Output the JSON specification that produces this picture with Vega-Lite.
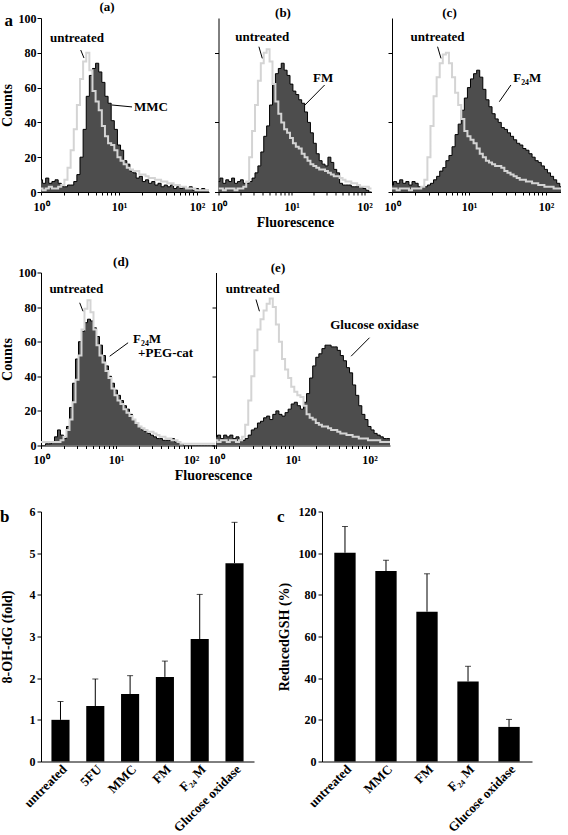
{
"$schema": "https://vega.github.io/schema/vega-lite/v6.json",
"padding": {"left": 0, "top": 1, "right": 0, "bottom": 0},
"spacing": 22.5,
"config": {
  "font": "Liberation Serif",
  "view": {"stroke": null},
  "axis": {"labelFont": "Liberation Serif", "labelFontWeight": "bold", "labelFontSize": 12, "labelColor": "black", "titleFont": "Liberation Serif", "titleFontWeight": "bold", "titleFontSize": 14, "titleColor": "black", "domainColor": "black", "tickColor": "black", "grid": false, "tickSize": 4, "labelOverlap": false},
  "title": {"font": "Liberation Serif", "fontWeight": "bold", "fontSize": 13, "color": "black", "offset": -2},
  "text": {"font": "Liberation Serif", "fontWeight": "bold", "fontSize": 13, "color": "black"}
},
"datasets": {
  "a": [
    {"x":1,"u":2,"t":7},{"x":1.096,"u":1,"t":5},{"x":1.202,"u":2,"t":8},{"x":1.318,"u":3,"t":5},{"x":1.445,"u":2,"t":6},{"x":1.585,"u":2,"t":7},{"x":1.738,"u":3,"t":5},{"x":1.905,"u":4,"t":3},{"x":2.089,"u":7,"t":3},{"x":2.291,"u":14,"t":4},
    {"x":2.512,"u":24,"t":4},{"x":2.754,"u":36,"t":6},{"x":3.02,"u":50,"t":10},{"x":3.311,"u":65,"t":20},{"x":3.631,"u":75,"t":36},{"x":3.981,"u":80,"t":55},{"x":4.365,"u":70,"t":67},{"x":4.786,"u":58,"t":71},{"x":5.248,"u":52,"t":74},{"x":5.754,"u":47,"t":69},
    {"x":6.31,"u":38,"t":63},{"x":6.918,"u":32,"t":55},{"x":7.586,"u":28,"t":51},{"x":8.318,"u":27,"t":41},{"x":9.12,"u":24,"t":36},{"x":10,"u":20,"t":27},{"x":10.96,"u":18,"t":24},{"x":12.02,"u":16,"t":18},{"x":13.18,"u":14,"t":16},{"x":14.45,"u":13,"t":12},
    {"x":15.85,"u":12,"t":11},{"x":17.38,"u":12,"t":8},{"x":19.05,"u":10,"t":9},{"x":20.89,"u":10,"t":6},{"x":22.91,"u":9,"t":7},{"x":25.12,"u":8,"t":5},{"x":27.54,"u":8,"t":6},{"x":30.2,"u":7,"t":4},{"x":33.11,"u":7,"t":5},{"x":36.31,"u":6,"t":3},
    {"x":39.81,"u":6,"t":4},{"x":43.65,"u":5,"t":3},{"x":47.86,"u":5,"t":4},{"x":52.48,"u":4,"t":2},{"x":57.54,"u":4,"t":3},{"x":63.1,"u":3,"t":2},{"x":69.18,"u":3,"t":3},{"x":75.86,"u":2,"t":2},{"x":83.18,"u":2,"t":3},{"x":91.2,"u":2,"t":1},
    {"x":100,"u":1,"t":2},{"x":109.6,"u":1,"t":1},{"x":120.2,"u":1,"t":2},{"x":131.8,"u":1,"t":1},{"x":144.5,"u":1,"t":1},{"x":158.5,"u":1,"t":1}
  ],
  "b": [
    {"x":1,"u":2,"t":6},{"x":1.096,"u":2,"t":8},{"x":1.202,"u":1,"t":5},{"x":1.318,"u":2,"t":7},{"x":1.445,"u":2,"t":6},{"x":1.585,"u":2,"t":8},{"x":1.738,"u":1,"t":5},{"x":1.905,"u":2,"t":6},{"x":2.089,"u":2,"t":7},{"x":2.291,"u":3,"t":5},
    {"x":2.512,"u":6,"t":5},{"x":2.754,"u":20,"t":6},{"x":3.02,"u":35,"t":8},{"x":3.311,"u":50,"t":11},{"x":3.631,"u":64,"t":15},{"x":3.981,"u":74,"t":23},{"x":4.365,"u":80,"t":32},{"x":4.786,"u":82,"t":38},{"x":5.248,"u":75,"t":50},{"x":5.754,"u":62,"t":62},
    {"x":6.31,"u":52,"t":68},{"x":6.918,"u":45,"t":71},{"x":7.586,"u":40,"t":74},{"x":8.318,"u":36,"t":70},{"x":9.12,"u":34,"t":67},{"x":10,"u":31,"t":62},{"x":10.96,"u":28,"t":58},{"x":12.02,"u":26,"t":56},{"x":13.18,"u":25,"t":53},{"x":14.45,"u":22,"t":51},
    {"x":15.85,"u":20,"t":46},{"x":17.38,"u":18,"t":40},{"x":19.05,"u":16,"t":34},{"x":20.89,"u":15,"t":28},{"x":22.91,"u":14,"t":22},{"x":25.12,"u":13,"t":18},{"x":27.54,"u":13,"t":16},{"x":30.2,"u":12,"t":15},{"x":33.11,"u":11,"t":20},{"x":36.31,"u":10,"t":17},
    {"x":39.81,"u":9,"t":13},{"x":43.65,"u":9,"t":11},{"x":47.86,"u":8,"t":5},{"x":52.48,"u":7,"t":4},{"x":57.54,"u":6,"t":4},{"x":63.1,"u":6,"t":4},{"x":69.18,"u":5,"t":3},{"x":75.86,"u":5,"t":3},{"x":83.18,"u":4,"t":3},{"x":91.2,"u":3,"t":3},
    {"x":100,"u":3,"t":2},{"x":109.6,"u":3,"t":1},{"x":120.2,"u":2,"t":0},{"x":131.8,"u":2,"t":0}
  ],
  "c": [
    {"x":1,"u":2,"t":4},{"x":1.096,"u":2,"t":6},{"x":1.202,"u":1,"t":5},{"x":1.318,"u":2,"t":7},{"x":1.445,"u":2,"t":5},{"x":1.585,"u":2,"t":6},{"x":1.738,"u":1,"t":4},{"x":1.905,"u":2,"t":6},{"x":2.089,"u":2,"t":5},{"x":2.291,"u":2,"t":3},
    {"x":2.512,"u":3,"t":3},{"x":2.754,"u":7,"t":3},{"x":3.02,"u":20,"t":4},{"x":3.311,"u":38,"t":5},{"x":3.631,"u":55,"t":7},{"x":3.981,"u":66,"t":9},{"x":4.365,"u":74,"t":12},{"x":4.786,"u":79,"t":14},{"x":5.248,"u":80,"t":18},{"x":5.754,"u":74,"t":21},
    {"x":6.31,"u":66,"t":26},{"x":6.918,"u":57,"t":33},{"x":7.586,"u":50,"t":39},{"x":8.318,"u":42,"t":47},{"x":9.12,"u":35,"t":54},{"x":10,"u":32,"t":60},{"x":10.96,"u":30,"t":65},{"x":12.02,"u":28,"t":68},{"x":13.18,"u":25,"t":70},{"x":14.45,"u":22,"t":66},
    {"x":15.85,"u":20,"t":59},{"x":17.38,"u":18,"t":53},{"x":19.05,"u":17,"t":49},{"x":20.89,"u":16,"t":45},{"x":22.91,"u":15,"t":42},{"x":25.12,"u":15,"t":40},{"x":27.54,"u":14,"t":37},{"x":30.2,"u":12,"t":36},{"x":33.11,"u":11,"t":34},{"x":36.31,"u":10,"t":32},
    {"x":39.81,"u":9,"t":30},{"x":43.65,"u":8,"t":28},{"x":47.86,"u":7,"t":27},{"x":52.48,"u":7,"t":25},{"x":57.54,"u":6,"t":24},{"x":63.1,"u":6,"t":22},{"x":69.18,"u":5,"t":20},{"x":75.86,"u":5,"t":18},{"x":83.18,"u":4,"t":17},{"x":91.2,"u":4,"t":15},
    {"x":100,"u":3,"t":13},{"x":109.6,"u":3,"t":11},{"x":120.2,"u":3,"t":9},{"x":131.8,"u":2,"t":7},{"x":144.5,"u":2,"t":5},{"x":158.5,"u":2,"t":3},{"x":173.8,"u":2,"t":3}
  ],
  "d": [
    {"x":1,"u":2,"t":0},{"x":1.096,"u":2,"t":0},{"x":1.202,"u":2,"t":1},{"x":1.318,"u":2,"t":1},{"x":1.445,"u":2,"t":2},{"x":1.585,"u":2,"t":5},{"x":1.738,"u":2,"t":9},{"x":1.905,"u":3,"t":6},{"x":2.089,"u":5,"t":4},{"x":2.291,"u":9,"t":11},
    {"x":2.512,"u":15,"t":22},{"x":2.754,"u":25,"t":36},{"x":3.02,"u":38,"t":50},{"x":3.311,"u":52,"t":60},{"x":3.631,"u":67,"t":66},{"x":3.981,"u":79,"t":71},{"x":4.365,"u":84,"t":73},{"x":4.786,"u":77,"t":72},{"x":5.248,"u":67,"t":68},{"x":5.754,"u":58,"t":63},
    {"x":6.31,"u":52,"t":58},{"x":6.918,"u":48,"t":52},{"x":7.586,"u":43,"t":46},{"x":8.318,"u":39,"t":40},{"x":9.12,"u":33,"t":36},{"x":10,"u":29,"t":32},{"x":10.96,"u":26,"t":29},{"x":12.02,"u":24,"t":26},{"x":13.18,"u":21,"t":23},{"x":14.45,"u":19,"t":21},
    {"x":15.85,"u":17,"t":18},{"x":17.38,"u":15,"t":15},{"x":19.05,"u":13,"t":13},{"x":20.89,"u":11,"t":11},{"x":22.91,"u":10,"t":9},{"x":25.12,"u":9,"t":8},{"x":27.54,"u":8,"t":7},{"x":30.2,"u":8,"t":6},{"x":33.11,"u":7,"t":5},{"x":36.31,"u":6,"t":4},
    {"x":39.81,"u":5,"t":4},{"x":43.65,"u":5,"t":3},{"x":47.86,"u":4,"t":3},{"x":52.48,"u":4,"t":3},{"x":57.54,"u":3,"t":4},{"x":63.1,"u":3,"t":2},{"x":69.18,"u":2,"t":2},{"x":75.86,"u":1,"t":1},{"x":83.18,"u":1,"t":0},{"x":91.2,"u":1,"t":0},
    {"x":100,"u":1,"t":0},{"x":109.6,"u":1,"t":0},{"x":120.2,"u":1,"t":0},{"x":131.8,"u":1,"t":0},{"x":144.5,"u":1,"t":0},{"x":158.5,"u":1,"t":0},{"x":173.8,"u":1,"t":0},{"x":190.5,"u":1,"t":0},{"x":208.9,"u":1,"t":0}
  ],
  "e": [
    {"x":1,"u":3,"t":5},{"x":1.096,"u":2,"t":6},{"x":1.202,"u":3,"t":4},{"x":1.318,"u":3,"t":6},{"x":1.445,"u":2,"t":5},{"x":1.585,"u":3,"t":6},{"x":1.738,"u":3,"t":4},{"x":1.905,"u":2,"t":5},{"x":2.089,"u":3,"t":3},{"x":2.291,"u":5,"t":3},
    {"x":2.512,"u":12,"t":4},{"x":2.754,"u":26,"t":6},{"x":3.02,"u":40,"t":9},{"x":3.311,"u":55,"t":10},{"x":3.631,"u":67,"t":13},{"x":3.981,"u":73,"t":14},{"x":4.365,"u":78,"t":16},{"x":4.786,"u":82,"t":17},{"x":5.248,"u":85,"t":15},{"x":5.754,"u":80,"t":18},
    {"x":6.31,"u":70,"t":20},{"x":6.918,"u":60,"t":18},{"x":7.586,"u":50,"t":17},{"x":8.318,"u":44,"t":19},{"x":9.12,"u":39,"t":21},{"x":10,"u":34,"t":24},{"x":10.96,"u":31,"t":25},{"x":12.02,"u":29,"t":23},{"x":13.18,"u":28,"t":21},{"x":14.45,"u":23,"t":25},
    {"x":15.85,"u":18,"t":30},{"x":17.38,"u":16,"t":39},{"x":19.05,"u":15,"t":46},{"x":20.89,"u":13,"t":51},{"x":22.91,"u":12,"t":53},{"x":25.12,"u":11,"t":56},{"x":27.54,"u":11,"t":58},{"x":30.2,"u":10,"t":58},{"x":33.11,"u":9,"t":57},{"x":36.31,"u":9,"t":57},
    {"x":39.81,"u":8,"t":55},{"x":43.65,"u":7,"t":52},{"x":47.86,"u":7,"t":49},{"x":52.48,"u":6,"t":45},{"x":57.54,"u":6,"t":42},{"x":63.1,"u":5,"t":35},{"x":69.18,"u":5,"t":29},{"x":75.86,"u":4,"t":23},{"x":83.18,"u":4,"t":18},{"x":91.2,"u":4,"t":15},
    {"x":100,"u":3,"t":11},{"x":109.6,"u":3,"t":9},{"x":120.2,"u":3,"t":7},{"x":131.8,"u":3,"t":6},{"x":144.5,"u":2,"t":5},{"x":158.5,"u":2,"t":4},{"x":173.8,"u":2,"t":4},{"x":190.5,"u":2,"t":4}
  ]
},
"vconcat": [
  {
    "spacing": 26.5,
    "vconcat": [
      {
        "spacing": 1.5,
        "hconcat": [
          {
            "width": 168, "height": 174,
            "title": {"text": "(a)", "dx": -18},
            "data": {"name": "a"},
            "layer": [
              {"mark": {"type": "area", "interpolate": "step", "color": "#4d4d4d", "clip": true},
               "encoding": {
                 "x": {"field": "x", "type": "quantitative", "title": null, "scale": {"type": "log", "domain": [1, 142.6], "nice": false},
                       "axis": {"values": [1,2,3,4,5,6,7,8,9,10,20,30,40,50,60,70,80,90,100], "labelExpr": "datum.value == 1 ? '10⁰' : datum.value == 10 ? '10¹' : datum.value == 100 ? '10²' : ''", "tickSize": 3, "labelFlush": false, "labelOverlap": false, "labelPadding": 6}},
                 "y": {"field": "t", "type": "quantitative", "title": "Counts", "scale": {"domain": [0, 100], "nice": false},
                       "axis": {"values": [0,20,40,60,80,100], "labelOverlap": false, "labelPadding": 1, "titlePadding": 3, "minExtent": 24, "maxExtent": 24}}}},
              {"mark": {"type": "line", "interpolate": "step", "color": "#000000", "strokeWidth": 1, "clip": true},
               "encoding": {"x": {"field": "x", "type": "quantitative", "title": null}, "y": {"field": "t", "type": "quantitative", "title": "Counts", "axis": {"values": [0,20,40,60,80,100], "labelOverlap": false, "labelPadding": 1, "titlePadding": 3, "minExtent": 24, "maxExtent": 24}}}},
              {"mark": {"type": "line", "interpolate": "step", "color": "#d4d4d4", "strokeWidth": 2, "clip": true},
               "encoding": {"x": {"field": "x", "type": "quantitative", "title": null}, "y": {"field": "u", "type": "quantitative", "title": "Counts", "axis": {"values": [0,20,40,60,80,100], "labelOverlap": false, "labelPadding": 1, "titlePadding": 3, "minExtent": 24, "maxExtent": 24}}}},
              {"data": {"values": [{"label": "untreated"}]}, "mark": {"type": "text", "align": "center", "baseline": "middle"}, "encoding": {"x": {"datum": 2.89}, "y": {"datum": 88.5, "title": "Counts", "axis": {"values": [0,20,40,60,80,100], "labelOverlap": false, "labelPadding": 1, "titlePadding": 3, "minExtent": 24, "maxExtent": 24}}, "text": {"field": "label"}}},
              {"data": {"values": [{"label": "untreated"}]}, "mark": {"type": "rule", "color": "black"}, "encoding": {"x": {"datum": 3.23}, "y": {"datum": 81.6, "title": "Counts", "axis": {"values": [0,20,40,60,80,100], "labelOverlap": false, "labelPadding": 1, "titlePadding": 3, "minExtent": 24, "maxExtent": 24}}, "x2": {"datum": 3.56}, "y2": {"datum": 77}}},
              {"data": {"values": [{"label": "MMC"}]}, "mark": {"type": "text", "align": "left", "baseline": "middle"}, "encoding": {"x": {"datum": 15.6}, "y": {"datum": 48.9, "title": "Counts", "axis": {"values": [0,20,40,60,80,100], "labelOverlap": false, "labelPadding": 1, "titlePadding": 3, "minExtent": 24, "maxExtent": 24}}, "text": {"field": "label"}}},
              {"data": {"values": [{"label": "MMC"}]}, "mark": {"type": "rule", "color": "black"}, "encoding": {"x": {"datum": 8.13}, "y": {"datum": 50, "title": "Counts", "axis": {"values": [0,20,40,60,80,100], "labelOverlap": false, "labelPadding": 1, "titlePadding": 3, "minExtent": 24, "maxExtent": 24}}, "x2": {"datum": 14.7}, "y2": {"datum": 48.9}}},
              {"data": {"values": [{"label": "a"}]}, "mark": {"type": "text", "align": "left", "baseline": "middle", "fontSize": 17}, "encoding": {"x": {"datum": 0.34}, "y": {"datum": 98, "title": "Counts", "axis": {"values": [0,20,40,60,80,100], "labelOverlap": false, "labelPadding": 1, "titlePadding": 3, "minExtent": 24, "maxExtent": 24}}, "text": {"field": "label"}}}
            ]
          },
          {
            "spacing": 11.5,
            "hconcat": [
              {
                "width": 153, "height": 174,
                "title": {"text": "(b)", "dx": -12},
                "data": {"name": "b"},
                "layer": [
                  {"mark": {"type": "area", "interpolate": "step", "color": "#4d4d4d", "clip": true},
                   "encoding": {
                     "x": {"field": "x", "type": "quantitative", "title": "Fluorescence", "scale": {"type": "log", "domain": [1, 125], "nice": false},
                           "axis": {"values": [1,2,3,4,5,6,7,8,9,10,20,30,40,50,60,70,80,90,100], "labelExpr": "datum.value == 1 ? '10⁰' : datum.value == 10 ? '10¹' : datum.value == 100 ? '10²' : ''", "tickSize": 3, "labelFlush": false, "labelOverlap": false, "labelPadding": 6, "titlePadding": 3}},
                     "y": {"field": "t", "type": "quantitative", "title": null, "scale": {"domain": [0, 100], "nice": false},
                           "axis": {"values": [0,20,40,60,80,100], "labels": false}}}},
                  {"mark": {"type": "line", "interpolate": "step", "color": "#000000", "strokeWidth": 1, "clip": true},
                   "encoding": {"x": {"field": "x", "type": "quantitative", "title": "Fluorescence"}, "y": {"field": "t", "type": "quantitative", "title": null, "axis": {"values": [0,20,40,60,80,100], "labels": false}}}},
                  {"mark": {"type": "line", "interpolate": "step", "color": "#d4d4d4", "strokeWidth": 2, "clip": true},
                   "encoding": {"x": {"field": "x", "type": "quantitative", "title": "Fluorescence"}, "y": {"field": "u", "type": "quantitative", "title": null, "axis": {"values": [0,20,40,60,80,100], "labels": false}}}},
                  {"data": {"values": [{"label": "untreated"}]}, "mark": {"type": "text", "align": "center", "baseline": "middle"}, "encoding": {"x": {"datum": 3.98}, "y": {"datum": 89.3}, "text": {"field": "label"}}},
                  {"data": {"values": [{"label": "untreated"}]}, "mark": {"type": "rule", "color": "black"}, "encoding": {"x": {"datum": 3.58}, "y": {"datum": 83.5}, "x2": {"datum": 3.98}, "y2": {"datum": 76.8}}},
                  {"data": {"values": [{"label": "FM"}]}, "mark": {"type": "text", "align": "center", "baseline": "middle"}, "encoding": {"x": {"datum": 27.1}, "y": {"datum": 65.3}, "text": {"field": "label"}}},
                  {"data": {"values": [{"label": "FM"}]}, "mark": {"type": "rule", "color": "black"}, "encoding": {"x": {"datum": 28.5}, "y": {"datum": 61.5}, "x2": {"datum": 15.3}, "y2": {"datum": 50}}}
                ]
              },
              {
                "width": 169, "height": 174,
                "title": {"text": "(c)", "dx": -27},
                "data": {"name": "c"},
                "layer": [
                  {"mark": {"type": "area", "interpolate": "step", "color": "#4d4d4d", "clip": true},
                   "encoding": {
                     "x": {"field": "x", "type": "quantitative", "title": null, "scale": {"type": "log", "domain": [1, 157], "nice": false},
                           "axis": {"values": [1,2,3,4,5,6,7,8,9,10,20,30,40,50,60,70,80,90,100], "labelExpr": "datum.value == 1 ? '10⁰' : datum.value == 10 ? '10¹' : datum.value == 100 ? '10²' : ''", "tickSize": 3, "labelFlush": false, "labelOverlap": false, "labelPadding": 6}},
                     "y": {"field": "t", "type": "quantitative", "title": null, "scale": {"domain": [0, 100], "nice": false},
                           "axis": {"values": [0,20,40,60,80,100], "labels": false}}}},
                  {"mark": {"type": "line", "interpolate": "step", "color": "#000000", "strokeWidth": 1, "clip": true},
                   "encoding": {"x": {"field": "x", "type": "quantitative", "title": null}, "y": {"field": "t", "type": "quantitative", "title": null, "axis": {"values": [0,20,40,60,80,100], "labels": false}}}},
                  {"mark": {"type": "line", "interpolate": "step", "color": "#d4d4d4", "strokeWidth": 2, "clip": true},
                   "encoding": {"x": {"field": "x", "type": "quantitative", "title": null}, "y": {"field": "u", "type": "quantitative", "title": null, "axis": {"values": [0,20,40,60,80,100], "labels": false}}}},
                  {"data": {"values": [{"label": "untreated"}]}, "mark": {"type": "text", "align": "center", "baseline": "middle"}, "encoding": {"x": {"datum": 3.91}, "y": {"datum": 89.3}, "text": {"field": "label"}}},
                  {"data": {"values": [{"label": "untreated"}]}, "mark": {"type": "rule", "color": "black"}, "encoding": {"x": {"datum": 3.91}, "y": {"datum": 83.5}, "x2": {"datum": 4.33}, "y2": {"datum": 76.8}}},
                  {"data": {"values": [{"label": "F₂₄M"}]}, "mark": {"type": "text", "align": "center", "baseline": "middle"}, "encoding": {"x": {"datum": 57.2}, "y": {"datum": 65.3}, "text": {"field": "label"}}},
                  {"data": {"values": [{"label": "F₂₄M"}]}, "mark": {"type": "rule", "color": "black"}, "encoding": {"x": {"datum": 35.1}, "y": {"datum": 61.5}, "x2": {"datum": 24.8}, "y2": {"datum": 51.9}}}
                ]
              }
            ]
          }
        ]
      },
      {
        "bounds": "flush",
        "spacing": 1,
        "hconcat": [
          {
            "width": 174, "height": 173,
            "title": {"text": "(d)", "dx": -7},
            "data": {"name": "d"},
            "layer": [
              {"mark": {"type": "area", "interpolate": "step", "color": "#4d4d4d", "clip": true},
               "encoding": {
                 "x": {"field": "x", "type": "quantitative", "title": "Fluorescence", "scale": {"type": "log", "domain": [1, 209], "nice": false},
                       "axis": {"values": [1,2,3,4,5,6,7,8,9,10,20,30,40,50,60,70,80,90,100,200], "labelExpr": "datum.value == 1 ? '10⁰' : datum.value == 10 ? '10¹' : datum.value == 100 ? '10²' : ''", "tickSize": 3, "labelFlush": false, "labelOverlap": false, "labelPadding": 6, "titlePadding": 3, "titleX": 172}},
                 "y": {"field": "t", "type": "quantitative", "title": "Counts", "scale": {"domain": [0, 100], "nice": false},
                       "axis": {"values": [0,20,40,60,80,100], "labelOverlap": false, "labelPadding": 1, "titlePadding": 3, "minExtent": 24, "maxExtent": 24}}}},
              {"mark": {"type": "line", "interpolate": "step", "color": "#000000", "strokeWidth": 1, "clip": true},
               "encoding": {"x": {"field": "x", "type": "quantitative", "title": "Fluorescence"}, "y": {"field": "t", "type": "quantitative", "title": "Counts", "axis": {"values": [0,20,40,60,80,100], "labelOverlap": false, "labelPadding": 1, "titlePadding": 3, "minExtent": 24, "maxExtent": 24}}}},
              {"mark": {"type": "line", "interpolate": "step", "color": "#d4d4d4", "strokeWidth": 2, "clip": true},
               "encoding": {"x": {"field": "x", "type": "quantitative", "title": "Fluorescence"}, "y": {"field": "u", "type": "quantitative", "title": "Counts", "axis": {"values": [0,20,40,60,80,100], "labelOverlap": false, "labelPadding": 1, "titlePadding": 3, "minExtent": 24, "maxExtent": 24}}}},
              {"data": {"values": [{"label": "untreated"}]}, "mark": {"type": "text", "align": "center", "baseline": "middle"}, "encoding": {"x": {"datum": 2.96}, "y": {"datum": 90.2, "title": "Counts", "axis": {"values": [0,20,40,60,80,100], "labelOverlap": false, "labelPadding": 1, "titlePadding": 3, "minExtent": 24, "maxExtent": 24}}, "text": {"field": "label"}}},
              {"data": {"values": [{"label": "untreated"}]}, "mark": {"type": "rule", "color": "black"}, "encoding": {"x": {"datum": 3.28}, "y": {"datum": 82.5, "title": "Counts", "axis": {"values": [0,20,40,60,80,100], "labelOverlap": false, "labelPadding": 1, "titlePadding": 3, "minExtent": 24, "maxExtent": 24}}, "x2": {"datum": 3.63}, "y2": {"datum": 77.6}}},
              {"data": {"values": [{"label": "F₂₄M"}]}, "mark": {"type": "text", "align": "left", "baseline": "middle"}, "encoding": {"x": {"datum": 16.9}, "y": {"datum": 61.3, "title": "Counts", "axis": {"values": [0,20,40,60,80,100], "labelOverlap": false, "labelPadding": 1, "titlePadding": 3, "minExtent": 24, "maxExtent": 24}}, "text": {"field": "label"}}},
              {"data": {"values": [{"label": "+PEG-cat"}]}, "mark": {"type": "text", "align": "left", "baseline": "middle"}, "encoding": {"x": {"datum": 19.7}, "y": {"datum": 53.5, "title": "Counts", "axis": {"values": [0,20,40,60,80,100], "labelOverlap": false, "labelPadding": 1, "titlePadding": 3, "minExtent": 24, "maxExtent": 24}}, "text": {"field": "label"}}},
              {"data": {"values": [{"label": "F₂₄M"}]}, "mark": {"type": "rule", "color": "black"}, "encoding": {"x": {"datum": 14.5}, "y": {"datum": 59.4, "title": "Counts", "axis": {"values": [0,20,40,60,80,100], "labelOverlap": false, "labelPadding": 1, "titlePadding": 3, "minExtent": 24, "maxExtent": 24}}, "x2": {"datum": 8.24}, "y2": {"datum": 51.6}}}
            ]
          },
          {
            "width": 174, "height": 173,
            "title": {"text": "(e)", "dx": -25},
            "data": {"name": "e"},
            "layer": [
              {"mark": {"type": "area", "interpolate": "step", "color": "#4d4d4d", "clip": true},
               "encoding": {
                 "x": {"field": "x", "type": "quantitative", "title": null, "scale": {"type": "log", "domain": [1, 185], "nice": false},
                       "axis": {"values": [1,2,3,4,5,6,7,8,9,10,20,30,40,50,60,70,80,90,100], "labelExpr": "datum.value == 1 ? '10⁰' : datum.value == 10 ? '10¹' : datum.value == 100 ? '10²' : ''", "tickSize": 3, "labelFlush": false, "labelOverlap": false, "labelPadding": 6}},
                 "y": {"field": "t", "type": "quantitative", "title": null, "scale": {"domain": [0, 100], "nice": false},
                       "axis": {"values": [0,20,40,60,80,100], "labels": false}}}},
              {"mark": {"type": "line", "interpolate": "step", "color": "#000000", "strokeWidth": 1, "clip": true},
               "encoding": {"x": {"field": "x", "type": "quantitative", "title": null}, "y": {"field": "t", "type": "quantitative", "title": null, "axis": {"values": [0,20,40,60,80,100], "labels": false}}}},
              {"mark": {"type": "line", "interpolate": "step", "color": "#d4d4d4", "strokeWidth": 2, "clip": true},
               "encoding": {"x": {"field": "x", "type": "quantitative", "title": null}, "y": {"field": "u", "type": "quantitative", "title": null, "axis": {"values": [0,20,40,60,80,100], "labels": false}}}},
              {"data": {"values": [{"label": "untreated"}]}, "mark": {"type": "text", "align": "center", "baseline": "middle"}, "encoding": {"x": {"datum": 3.01}, "y": {"datum": 90.2}, "text": {"field": "label"}}},
              {"data": {"values": [{"label": "untreated"}]}, "mark": {"type": "rule", "color": "black"}, "encoding": {"x": {"datum": 3.32}, "y": {"datum": 84.4}, "x2": {"datum": 3.68}, "y2": {"datum": 77.6}}},
              {"data": {"values": [{"label": "Glucose oxidase"}]}, "mark": {"type": "text", "align": "center", "baseline": "middle"}, "encoding": {"x": {"datum": 116}, "y": {"datum": 69.9}, "text": {"field": "label"}}},
              {"data": {"values": [{"label": "Glucose oxidase"}]}, "mark": {"type": "rule", "color": "black"}, "encoding": {"x": {"datum": 100}, "y": {"datum": 62.3}, "x2": {"datum": 57.6}, "y2": {"datum": 51.6}}}
            ]
          }
        ]
      }
    ]
  },
  {
    "spacing": 23,
    "hconcat": [
      {
        "width": 213, "height": 250,
        "title": {"text": "b", "anchor": "start", "frame": "bounds", "fontSize": 17, "dy": 18},
        "data": {"values": [
          {"treatment": "untreated", "value": 1.0, "upper": 1.44},
          {"treatment": "5FU", "value": 1.33, "upper": 1.98},
          {"treatment": "MMC", "value": 1.62, "upper": 2.06},
          {"treatment": "FM", "value": 2.03, "upper": 2.41},
          {"treatment": "F₂₄ M", "value": 2.94, "upper": 4.01},
          {"treatment": "Glucose oxidase", "value": 4.76, "upper": 5.74}
        ]},
        "encoding": {
          "x": {"field": "treatment", "type": "nominal", "sort": null, "title": null, "scale": {"paddingInner": 0.48, "paddingOuter": 0.3},
                "axis": {"labelAngle": -45, "ticks": false, "labelFontSize": 13, "labelPadding": 1, "labelLimit": 300}}
        },
        "layer": [
          {"mark": {"type": "bar", "color": "black"}, "encoding": {"y": {"field": "value", "type": "quantitative", "title": "8-OH-dG (fold)", "scale": {"domain": [0, 6], "nice": false}, "axis": {"values": [0,1,2,3,4,5,6], "labelOverlap": false, "labelPadding": 2, "titlePadding": 3, "minExtent": 24, "maxExtent": 24}}}},
          {"mark": {"type": "rule", "color": "black"}, "encoding": {"y": {"field": "value", "type": "quantitative", "title": "8-OH-dG (fold)"}, "y2": {"field": "upper"}}},
          {"mark": {"type": "tick", "color": "black", "size": 6, "thickness": 1}, "encoding": {"y": {"field": "upper", "type": "quantitative", "title": "8-OH-dG (fold)"}}}
        ]
      },
      {
        "width": 210, "height": 250,
        "title": {"text": "c", "anchor": "start", "frame": "bounds", "fontSize": 17, "dy": 18},
        "data": {"values": [
          {"treatment": "untreated", "value": 100.2, "upper": 112.8},
          {"treatment": "MMC", "value": 91.4, "upper": 96.6},
          {"treatment": "FM", "value": 71.9, "upper": 90.1},
          {"treatment": "F₂₄ M", "value": 38.4, "upper": 45.7},
          {"treatment": "Glucose oxidase", "value": 16.6, "upper": 20.2}
        ]},
        "encoding": {
          "x": {"field": "treatment", "type": "nominal", "sort": null, "title": null, "scale": {"paddingInner": 0.48, "paddingOuter": 0.3},
                "axis": {"labelAngle": -45, "ticks": false, "labelFontSize": 13, "labelPadding": 1, "labelLimit": 300}}
        },
        "layer": [
          {"mark": {"type": "bar", "color": "black"}, "encoding": {"y": {"field": "value", "type": "quantitative", "title": "ReducedGSH (%)", "scale": {"domain": [0, 120], "nice": false}, "axis": {"values": [0,20,40,60,80,100,120], "labelOverlap": false, "labelPadding": 2, "titlePadding": 5, "minExtent": 26, "maxExtent": 26}}}},
          {"mark": {"type": "rule", "color": "black"}, "encoding": {"y": {"field": "value", "type": "quantitative", "title": "ReducedGSH (%)"}, "y2": {"field": "upper"}}},
          {"mark": {"type": "tick", "color": "black", "size": 6, "thickness": 1}, "encoding": {"y": {"field": "upper", "type": "quantitative", "title": "ReducedGSH (%)"}}}
        ]
      }
    ]
  }
]
}
